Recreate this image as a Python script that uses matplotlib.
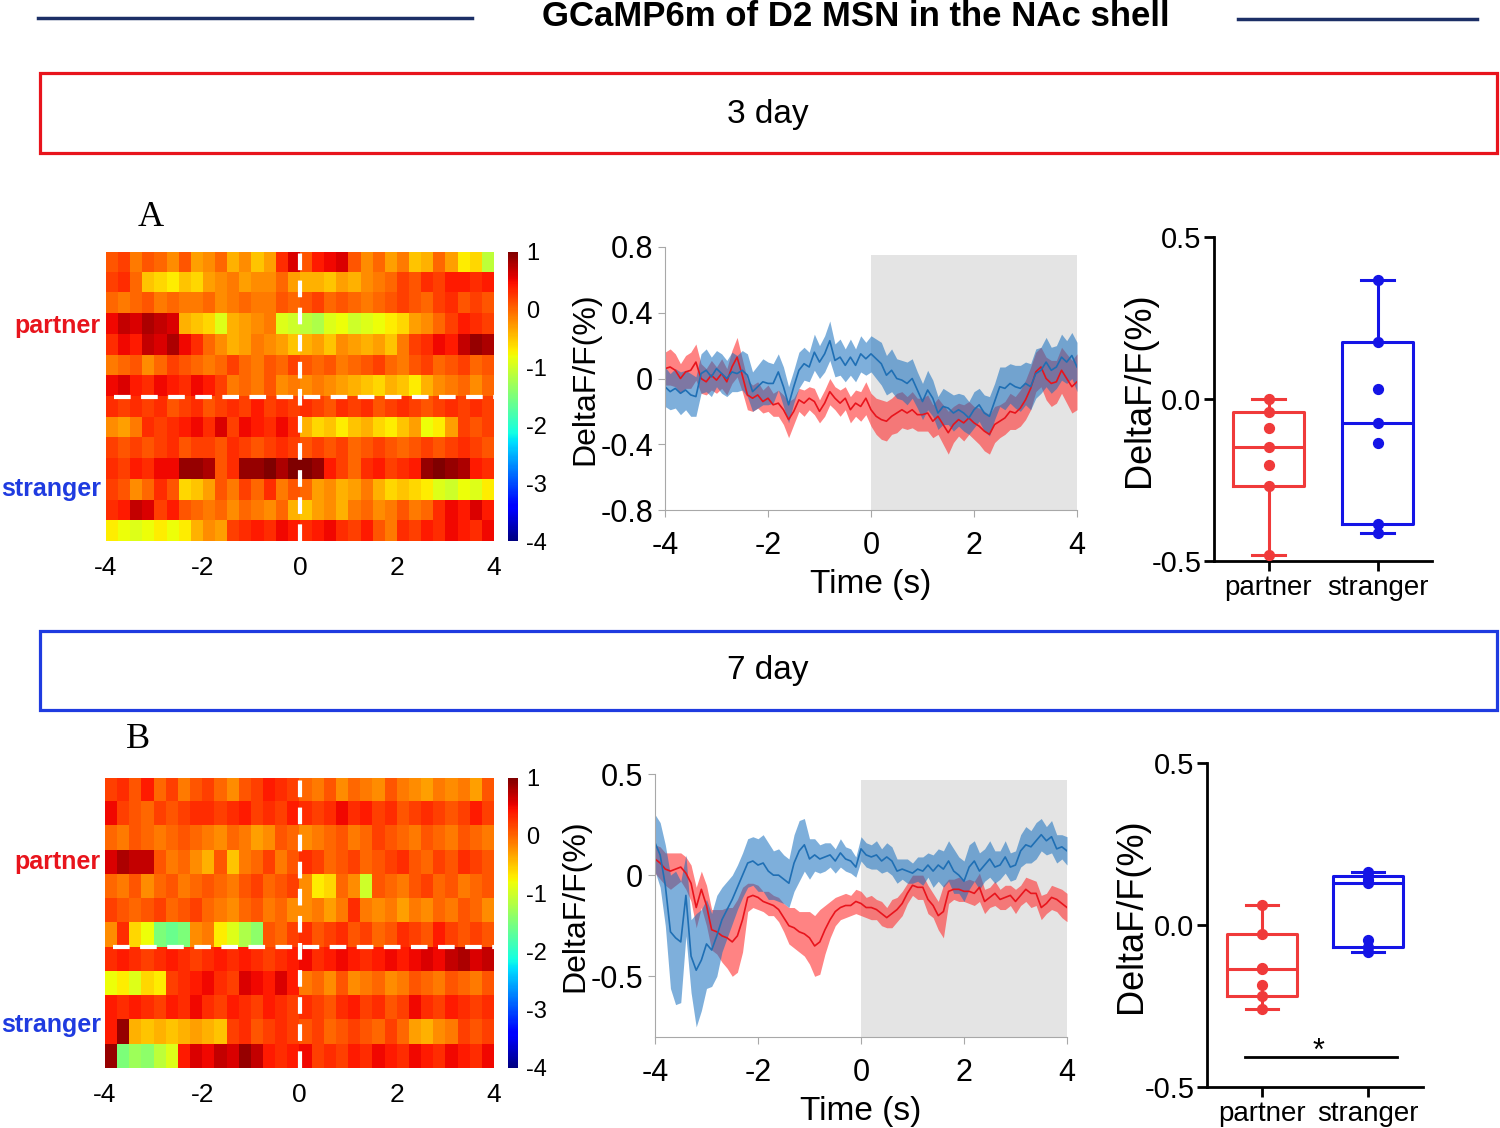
import numpy as np
import matplotlib
matplotlib.use('Agg')
import matplotlib.pyplot as plt
from matplotlib.patches import Rectangle
from matplotlib.lines import Line2D

plt.rcParams['font.family'] = ['Liberation Sans', 'DejaVu Sans']
plt.rcParams['axes.unicode_minus'] = False

W, H = 1500, 1128
RED = '#e8141c'
BLUE = '#1f3be0'
BOX_RED = '#f03a3a'
BOX_BLUE = '#1414e6'

# ---------------- data ----------------
time = np.round(np.arange(-4, 4.01, 0.1), 1)

# 3 day, mean trace +- sem (DeltaF/F %)
red_a = [0.06, 0.07, 0.05, 0.00, 0.04, 0.05, 0.10, 0.00, -0.02, 0.02,
         -0.01, 0.03, -0.02, 0.07, 0.13, 0.02, -0.10, -0.12, -0.10, -0.14,
         -0.12, -0.16, -0.15, -0.19, -0.25, -0.20, -0.13, -0.15, -0.12, -0.14,
         -0.20, -0.15, -0.08, -0.12, -0.15, -0.12, -0.19, -0.15, -0.17, -0.12,
         -0.19, -0.23, -0.25, -0.26, -0.23, -0.21, -0.19, -0.21, -0.19, -0.22,
         -0.22, -0.21, -0.26, -0.23, -0.28, -0.33, -0.28, -0.25, -0.27, -0.24,
         -0.27, -0.29, -0.32, -0.34, -0.28, -0.26, -0.24, -0.20, -0.21, -0.18,
         -0.13, -0.06, 0.04, 0.07, 0.00, -0.03, -0.02, 0.05, 0.00, -0.05,
         -0.02]
red_sem_a = [0.10, 0.11, 0.10, 0.09, 0.10, 0.11, 0.11, 0.09, 0.08, 0.09,
             0.08, 0.09, 0.08, 0.10, 0.12, 0.10, 0.09, 0.08, 0.08, 0.07,
             0.08, 0.07, 0.08, 0.09, 0.11, 0.08, 0.07, 0.08, 0.07, 0.08,
             0.07, 0.08, 0.08, 0.07, 0.08, 0.07, 0.08, 0.08, 0.09, 0.10,
             0.10, 0.11, 0.12, 0.12, 0.11, 0.12, 0.11, 0.10, 0.11, 0.10,
             0.10, 0.11, 0.10, 0.11, 0.12, 0.13, 0.11, 0.10, 0.11, 0.10,
             0.10, 0.11, 0.12, 0.12, 0.11, 0.10, 0.10, 0.11, 0.10, 0.11,
             0.12, 0.13, 0.12, 0.12, 0.13, 0.14, 0.13, 0.14, 0.15, 0.16,
             0.17]
blue_a = [-0.05, -0.08, -0.06, -0.09, -0.07, -0.10, -0.11, 0.03, 0.05, 0.01,
          0.06, 0.03, 0.00, 0.04, 0.03, 0.05, 0.02, -0.08, -0.05, -0.02,
          -0.03, -0.03, 0.04, -0.05, -0.16, -0.05, 0.05, 0.09, 0.07, 0.16,
          0.10, 0.15, 0.23, 0.11, 0.13, 0.08, 0.13, 0.08, 0.15, 0.12,
          0.15, 0.12, 0.09, 0.02, 0.05, 0.00, -0.01, -0.03, 0.00, -0.07,
          -0.14, -0.07, -0.12, -0.21, -0.17, -0.18, -0.21, -0.19, -0.21, -0.24,
          -0.19, -0.16, -0.21, -0.23, -0.14, -0.05, -0.06, -0.03, -0.05, -0.06,
          -0.03, -0.05, 0.03, 0.05, 0.10, 0.05, 0.07, 0.13, 0.10, 0.14,
          0.07]
blue_sem_a = [0.12, 0.11, 0.12, 0.13, 0.12, 0.13, 0.12, 0.12, 0.13, 0.12,
              0.11, 0.12, 0.11, 0.12, 0.11, 0.12, 0.13, 0.12, 0.13, 0.14,
              0.13, 0.12, 0.11, 0.12, 0.11, 0.10, 0.11, 0.10, 0.09, 0.11,
              0.10, 0.11, 0.12, 0.10, 0.11, 0.10, 0.11, 0.10, 0.11, 0.10,
              0.11, 0.12, 0.13, 0.12, 0.13, 0.12, 0.12, 0.13, 0.12, 0.11,
              0.11, 0.12, 0.11, 0.10, 0.11, 0.10, 0.11, 0.10, 0.11, 0.10,
              0.11, 0.10, 0.11, 0.12, 0.11, 0.12, 0.13, 0.12, 0.13, 0.14,
              0.13, 0.14, 0.15, 0.14, 0.15, 0.14, 0.13, 0.14, 0.13, 0.14,
              0.15]

# 7 day
red_b = [0.08, 0.06, 0.03, 0.02, 0.03, 0.04, 0.01, -0.04, -0.16, -0.07,
         -0.15, -0.27, -0.28, -0.30, -0.31, -0.33, -0.30, -0.22, -0.11, -0.10,
         -0.11, -0.13, -0.14, -0.15, -0.17, -0.21, -0.25, -0.26, -0.28, -0.29,
         -0.31, -0.35, -0.33, -0.27, -0.22, -0.18, -0.16, -0.15, -0.15, -0.13,
         -0.14, -0.16, -0.16, -0.17, -0.19, -0.21, -0.19, -0.17, -0.14, -0.09,
         -0.05, -0.06, -0.06, -0.12, -0.15, -0.20, -0.18, -0.08, -0.07, -0.07,
         -0.08, -0.08, -0.09, -0.06, -0.13, -0.11, -0.09, -0.12, -0.11, -0.10,
         -0.13, -0.10, -0.07, -0.09, -0.09, -0.16, -0.14, -0.11, -0.12, -0.14,
         -0.16]
red_sem_b = [0.07, 0.08, 0.08, 0.09, 0.08, 0.07, 0.08, 0.09, 0.10, 0.09,
             0.10, 0.10, 0.11, 0.13, 0.15, 0.17, 0.18, 0.16, 0.07, 0.06,
             0.06, 0.05, 0.06, 0.05, 0.06, 0.07, 0.09, 0.10, 0.10, 0.11,
             0.13, 0.15, 0.16, 0.12, 0.09, 0.07, 0.06, 0.06, 0.05, 0.06,
             0.06, 0.05, 0.06, 0.05, 0.06, 0.05, 0.07, 0.06, 0.06, 0.05,
             0.05, 0.06, 0.06, 0.07, 0.06, 0.07, 0.13, 0.06, 0.05, 0.06,
             0.05, 0.06, 0.06, 0.07, 0.06, 0.05, 0.06, 0.05, 0.06, 0.05,
             0.06, 0.05, 0.06, 0.07, 0.06, 0.06, 0.05, 0.06, 0.06, 0.07,
             0.07]
blue_b = [0.16, 0.10, -0.05, -0.28, -0.31, -0.33, -0.10, -0.40, -0.47, -0.42,
          -0.34, -0.37, -0.30, -0.22, -0.17, -0.12, -0.06, 0.00, 0.06, 0.07,
          0.05, 0.06, 0.02, 0.00, 0.00, -0.02, -0.04, 0.06, 0.12, 0.15,
          0.08, 0.10, 0.08, 0.09, 0.10, 0.07, 0.11, 0.08, 0.07, 0.04,
          0.13, 0.10, 0.09, 0.10, 0.07, 0.09, 0.07, 0.02, 0.03, 0.02,
          0.01, 0.03, 0.02, 0.05, 0.02, 0.05, 0.03, 0.07, 0.02, 0.00,
          -0.03, 0.04, 0.07, 0.02, 0.05, 0.08, 0.04, 0.05, 0.09, 0.04,
          0.05, 0.12, 0.15, 0.14, 0.17, 0.20, 0.17, 0.19, 0.13, 0.14,
          0.12]
blue_sem_b = [0.14, 0.16, 0.20, 0.28, 0.33, 0.30, 0.20, 0.18, 0.28, 0.25,
              0.22, 0.18, 0.20, 0.16, 0.14, 0.12, 0.11, 0.11, 0.12, 0.12,
              0.13, 0.14, 0.14, 0.12, 0.13, 0.12, 0.12, 0.14, 0.15, 0.13,
              0.10, 0.08, 0.07, 0.07, 0.06, 0.06, 0.07, 0.06, 0.06, 0.05,
              0.06, 0.06, 0.06, 0.07, 0.06, 0.07, 0.07, 0.06, 0.05, 0.06,
              0.05, 0.06, 0.07, 0.06, 0.08, 0.08, 0.09, 0.10, 0.11, 0.09,
              0.10, 0.11, 0.10, 0.09, 0.08, 0.09, 0.08, 0.07, 0.08, 0.07,
              0.07, 0.08, 0.09, 0.08, 0.09, 0.08, 0.07, 0.08, 0.07, 0.06,
              0.07]

# heatmaps: one row per trial, 0.25 s bins from -4 to 4 s
heat_a = [
    [0.1, 0.2, -0.1, 0.1, 0.0, -0.2, 0.1, -0.3, -0.2, 0.0, -0.4, -0.2, -0.5, -0.3, 0.3, 0.6, 0.1, 0.4, 0.5, 0.6, 0.1, -0.2, 0.0, -0.3, -0.1, -0.5, -0.4, 0.0, -0.3, -0.7, -0.6, -1.1],
    [0.2, 0.3, 0.0, -0.5, -0.6, -0.7, -0.5, -0.6, -0.3, -0.2, -0.1, -0.3, -0.2, -0.2, 0.0, -0.3, -0.4, -0.4, -0.5, -0.3, -0.4, -0.2, -0.1, 0.0, 0.2, 0.1, 0.3, 0.2, 0.4, 0.4, 0.3, 0.4],
    [0.0, -0.1, 0.0, 0.1, -0.1, 0.0, -0.1, -0.1, 0.0, -0.2, -0.1, 0.0, -0.1, -0.1, 0.1, 0.0, 0.1, 0.2, 0.0, 0.1, 0.0, -0.1, 0.0, 0.1, 0.2, 0.1, 0.0, 0.2, 0.3, 0.1, 0.2, 0.1],
    [0.5, 0.7, 0.6, 0.8, 0.7, 0.6, -0.4, -0.5, -0.6, -0.9, -0.4, -0.3, -0.2, -0.1, -0.9, -1.0, -1.1, -1.2, -0.9, -0.8, -1.0, -0.9, -0.8, -0.7, -0.6, -0.3, -0.2, 0.0, 0.2, 0.4, 0.3, 0.2],
    [0.3, 0.5, 0.4, 0.7, 0.6, 0.8, 0.5, 0.3, 0.0, -0.2, -0.4, -0.3, -0.1, -0.2, -0.3, -0.5, -0.4, -0.3, -0.5, -0.2, -0.3, -0.4, -0.3, -0.5, -0.1, 0.2, 0.3, 0.5, 0.4, 0.7, 0.9, 0.8],
    [-0.1, 0.0, 0.1, -0.2, 0.0, 0.2, 0.1, 0.0, -0.1, 0.0, 0.2, 0.0, -0.1, 0.1, 0.0, 0.2, 0.1, 0.0, 0.1, -0.1, 0.0, 0.1, 0.2, 0.0, -0.1, 0.1, 0.2, 0.0, 0.1, 0.2, 0.0, 0.1],
    [0.5, 0.6, 0.4, 0.3, 0.5, 0.4, 0.3, 0.5, 0.4, 0.2, -0.1, 0.0, -0.1, 0.1, -0.2, -0.1, -0.2, -0.1, -0.2, -0.3, -0.4, -0.5, -0.6, -0.4, -0.5, -0.7, -0.4, -0.2, -0.1, 0.0, -0.2, 0.0],
    [0.3, 0.2, 0.3, 0.2, 0.3, 0.1, 0.2, 0.3, 0.1, 0.2, 0.3, 0.2, 0.4, 0.2, 0.3, 0.2, 0.3, 0.2, 0.1, 0.3, 0.2, 0.3, 0.1, 0.2, 0.3, 0.2, 0.1, 0.2, 0.3, 0.2, 0.3, 0.2],
    [-0.2, -0.3, -0.1, 0.3, 0.2, 0.3, 0.4, 0.5, 0.3, 0.6, 0.2, 0.5, 0.4, 0.3, 0.5, 0.3, -0.4, -0.6, -0.5, -0.7, -0.5, -0.4, -0.6, -0.7, -0.5, -0.3, -0.8, -0.7, -0.3, 0.2, 0.1, 0.2],
    [0.2, 0.1, 0.2, 0.1, 0.2, 0.3, 0.1, 0.2, 0.2, 0.1, 0.3, 0.2, 0.1, 0.2, 0.3, 0.2, 0.1, 0.2, 0.1, 0.2, 0.0, 0.1, 0.2, 0.1, 0.0, 0.1, 0.2, 0.1, 0.2, 0.3, 0.2, 0.1],
    [0.3, 0.2, 0.4, 0.3, 0.5, 0.5, 0.9, 0.9, 0.8, 0.1, 0.3, 0.9, 0.9, 1.0, 0.8, 1.0, 1.0, 0.9, 0.4, 0.2, 0.0, 0.3, 0.4, 0.2, 0.3, 0.4, 0.9, 1.0, 0.9, 0.8, 0.4, 0.3],
    [0.2, 0.1, -0.2, 0.0, 0.3, 0.1, -0.6, -0.5, -0.3, 0.1, -0.1, 0.2, 0.0, 0.3, -0.1, 0.1, 0.0, -0.3, -0.2, -0.4, -0.3, -0.1, -0.4, -0.6, -0.5, -0.6, -0.7, -0.9, -1.0, -0.8, -0.9, -0.7],
    [0.3, 0.4, 0.7, 0.6, 0.2, 0.4, 0.1, 0.0, -0.1, 0.0, -0.2, 0.0, -0.1, -0.2, 0.0, -0.4, -0.5, -0.3, -0.2, -0.4, -0.1, 0.0, -0.2, -0.1, 0.1, -0.1, 0.0, 0.3, 0.5, 0.4, 0.6, 0.4],
    [-0.7, -0.8, -0.9, -0.8, -0.7, -0.8, -0.7, -0.4, -0.2, -0.3, 0.2, 0.3, 0.4, 0.3, 0.5, 0.4, 0.3, 0.4, 0.5, 0.3, 0.2, 0.4, 0.1, -0.1, 0.3, 0.2, 0.4, 0.3, 0.5, 0.4, 0.3, 0.5],
]
heat_b = [
    [0.2, 0.3, 0.1, 0.4, 0.0, 0.2, -0.1, 0.1, 0.2, 0.0, -0.2, 0.1, 0.2, 0.4, 0.3, 0.2, 0.0, -0.1, 0.1, -0.2, 0.0, -0.1, -0.2, 0.1, -0.1, -0.2, -0.3, -0.1, -0.2, -0.1, -0.3, 0.1],
    [0.5, 0.2, 0.1, 0.0, 0.2, 0.1, 0.2, 0.3, 0.3, 0.2, 0.3, 0.4, 0.2, 0.3, 0.2, 0.4, 0.3, 0.2, 0.3, 0.5, 0.3, 0.4, 0.2, 0.3, 0.1, 0.2, 0.3, 0.2, 0.1, 0.2, 0.4, 0.2],
    [0.0, -0.1, 0.1, 0.0, -0.1, 0.0, 0.1, 0.0, -0.1, -0.2, 0.0, -0.1, -0.3, -0.2, 0.1, 0.0, -0.2, -0.1, 0.0, 0.1, -0.1, 0.0, 0.2, 0.1, 0.0, -0.1, 0.1, 0.0, -0.1, 0.1, 0.0, -0.1],
    [0.6, 0.8, 0.7, 0.7, 0.1, -0.1, 0.0, -0.2, -0.4, 0.1, -0.5, -0.1, 0.0, 0.2, -0.1, 0.1, 0.3, 0.2, 0.0, 0.1, 0.2, 0.0, 0.1, 0.2, 0.3, 0.1, 0.0, 0.2, 0.1, 0.3, 0.2, 0.1],
    [0.0, -0.1, 0.1, -0.2, 0.0, 0.1, -0.1, 0.0, 0.1, 0.0, -0.1, 0.1, 0.2, 0.0, 0.1, 0.2, -0.2, -0.7, -0.6, 0.0, -0.2, -1.0, 0.1, 0.0, -0.1, 0.1, 0.2, 0.0, 0.1, -0.1, 0.0, 0.1],
    [0.2, 0.1, 0.0, 0.1, 0.2, 0.0, 0.1, 0.2, 0.0, -0.1, -0.2, 0.0, 0.1, -0.1, 0.0, -0.2, -0.2, -0.1, -0.3, -0.1, 0.3, -0.1, -0.2, -0.1, -0.3, -0.1, -0.2, 0.0, -0.1, 0.1, 0.0, -0.2],
    [-0.2, 0.3, -0.6, -0.8, -1.5, -1.6, -1.5, -0.2, -0.1, -0.7, -0.9, -1.2, -1.4, 0.1, 0.0, 0.2, 0.3, 0.1, 0.2, 0.3, 0.1, 0.2, 0.0, 0.1, 0.3, 0.2, 0.1, 0.4, 0.2, 0.1, 0.2, 0.1],
    [0.3, 0.4, 0.3, 0.2, 0.3, 0.4, 0.3, 0.2, 0.3, 0.4, 0.3, 0.4, 0.3, 0.2, 0.3, 0.4, 0.5, 0.3, 0.4, 0.5, 0.4, 0.3, 0.4, 0.5, 0.4, 0.5, 0.6, 0.5, 0.7, 0.8, 0.6, 0.7],
    [-0.8, -0.7, -0.9, -0.6, -0.7, 0.2, 0.3, 0.4, 0.5, 0.3, 0.2, 0.6, 0.5, 0.4, 0.6, 0.4, -0.1, 0.0, -0.2, 0.1, -0.2, -0.1, 0.0, -0.2, -0.1, 0.1, 0.0, -0.1, 0.1, 0.0, -0.1, 0.1],
    [0.4, 0.3, 0.4, 0.3, 0.2, 0.4, 0.3, 0.5, 0.3, 0.2, 0.4, 0.3, 0.2, 0.4, 0.3, 0.2, 0.3, 0.2, 0.1, 0.3, 0.4, 0.2, 0.3, 0.1, 0.2, 0.5, 0.3, 0.2, 0.4, 0.3, 0.2, 0.3],
    [0.4, 0.9, -0.4, -0.5, -0.4, -0.5, -0.4, -0.3, -0.4, -0.5, 0.2, 0.3, 0.1, 0.2, 0.3, 0.2, 0.1, 0.2, 0.0, 0.1, 0.2, 0.1, 0.0, 0.2, 0.0, -0.3, -0.4, -0.2, -0.1, 0.2, 0.1, 0.2],
    [0.9, -1.5, -1.3, -1.4, -1.1, -0.9, 0.4, 0.6, 0.5, 0.7, 0.6, 0.9, 0.7, 0.4, 0.3, 0.4, 0.5, 0.2, 0.3, 0.2, 0.4, 0.3, 0.5, 0.4, 0.3, 0.5, 0.4, 0.3, 0.5, 0.4, 0.3, 0.5],
]
n_partner_a = 7
n_partner_b = 7

# per-animal means for the box plots
box_a_partner = [-0.48, -0.267, -0.205, -0.147, -0.089, -0.041, 0.0]
box_a_stranger = [-0.414, -0.387, -0.137, -0.075, 0.031, 0.175, 0.368]
box_b_partner = [-0.258, -0.22, -0.186, -0.135, -0.133, -0.027, 0.062]
box_b_stranger = [-0.083, -0.068, -0.046, 0.130, 0.140, 0.151, 0.164]
box_labels = ['partner', 'stranger']


def px_axes(fig, x0, y0, x1, y1):
    # axes from pixel box (left, top, right, bottom)
    return fig.add_axes([x0 / W, 1 - y1 / H, (x1 - x0) / W, (y1 - y0) / H])


def plot_heatmap(fig, rows, n_partner, box, cbox, y_partner, y_stranger):
    ax = px_axes(fig, *box)
    im = ax.imshow(np.array(rows), cmap='jet', vmin=-4, vmax=1, aspect='auto',
                   extent=[-4, 4, len(rows), 0], interpolation='nearest')
    ax.axvline(0, color='white', lw=3, dashes=(4, 2.5))
    ax.axhline(n_partner, xmin=0.02, color='white', lw=3, dashes=(4, 2.5))
    ax.set_xticks([-4, -2, 0, 2, 4])
    ax.set_xticklabels(['-4', '-2', '0', '2', '4'])
    ax.set_yticks([])
    ax.tick_params(length=0, labelsize=19, pad=11)
    for s in ax.spines.values():
        s.set_visible(False)

    cax = px_axes(fig, *cbox)
    cb = fig.colorbar(im, cax=cax, ticks=[1, 0, -1, -2, -3, -4])
    cb.ax.set_yticklabels(['1', '0', '-1', '-2', '-3', '-4'])
    cb.ax.tick_params(length=0, labelsize=17, pad=6)
    cb.outline.set_visible(False)

    fig.text(100 / W, 1 - y_partner / H, 'partner', ha='right', va='center',
             color=RED, weight='bold', fontsize=18)
    fig.text(101 / W, 1 - y_stranger / H, 'stranger', ha='right', va='center',
             color=BLUE, weight='bold', fontsize=18)


def plot_traces(fig, box, rm, rs, bm, bs, ylim, yticks, ylabels, shade_top):
    ax = px_axes(fig, *box)
    rm, rs, bm, bs = map(np.array, (rm, rs, bm, bs))
    ax.axvspan(0, 4, ymin=0, ymax=(shade_top - ylim[0]) / (ylim[1] - ylim[0]),
               color='#e4e4e4', lw=0, zorder=0)
    ax.fill_between(time, rm - rs, rm + rs, color='#ff3030', alpha=0.6, lw=0)
    ax.plot(time, rm, color='#e8141c', lw=1.2)
    ax.fill_between(time, bm - bs, bm + bs, color='#156ebe', alpha=0.55, lw=0)
    ax.plot(time, bm, color='#1f6fb4', lw=1.2)

    ax.set_xlim(-4, 4)
    ax.set_ylim(*ylim)
    ax.set_xticks([-4, -2, 0, 2, 4])
    ax.set_xticklabels(['-4', '-2', '0', '2', '4'])
    ax.set_yticks(yticks)
    ax.set_yticklabels(ylabels)
    for s in ['top', 'right']:
        ax.spines[s].set_visible(False)
    for s in ['left', 'bottom']:
        ax.spines[s].set_color('#a8a8a8')
    ax.tick_params(direction='out', length=5, color='#a8a8a8', labelsize=22)
    ax.tick_params(axis='x', pad=10)
    ax.set_xlabel('Time (s)', fontsize=24)
    ax.xaxis.set_label_coords(0.5, -0.225)
    ax.set_ylabel('DeltaF/F(%)', fontsize=23)
    ax.yaxis.set_label_coords(-0.158, 0.5)
    return ax


def plot_box(fig, box, partner, stranger, xlim, label_x, sig=False):
    ax = px_axes(fig, *box)
    for pos, vals, col in [(1, partner, BOX_RED), (2, stranger, BOX_BLUE)]:
        q1, med, q3 = np.percentile(vals, [25, 50, 75], method='weibull')
        stats = [dict(med=med, q1=q1, q3=q3, whislo=min(vals), whishi=max(vals), fliers=[])]
        lp = dict(color=col, lw=2.2)
        ax.bxp(stats, positions=[pos], widths=0.66, capwidths=0.3, showfliers=False,
               boxprops=lp, whiskerprops=lp, capprops=lp, medianprops=lp)
        ax.scatter(np.full(len(vals), pos), vals, s=50, color=col, zorder=3)

    if sig:
        ax.plot([0.84, 2.27], [-0.407, -0.407], color='black', lw=2)
        ax.text(1.53, -0.415, '*', ha='center', va='baseline', fontsize=22)

    ax.set_xlim(*xlim)
    ax.set_ylim(-0.5, 0.5)
    ax.set_yticks([-0.5, 0.0, 0.5])
    ax.set_yticklabels(['-0.5', '0.0', '0.5'])
    ax.set_xticks([1, 2])
    ax.set_xticklabels(box_labels)
    for s in ['top', 'right']:
        ax.spines[s].set_visible(False)
    for s in ['left', 'bottom']:
        ax.spines[s].set_linewidth(2)
    ax.tick_params(direction='out', length=7, width=2, labelsize=21)
    ax.tick_params(axis='y', pad=2)
    ax.tick_params(axis='x', labelsize=20, pad=3)
    ax.set_ylabel('DeltaF/F(%)', fontsize=26)
    ax.yaxis.set_label_coords(label_x, 0.53)
    return ax


fig = plt.figure(figsize=(W / 100, H / 100), dpi=100)

# header
fig.text(856 / W, 1 - 16 / H, 'GCaMP6m of D2 MSN in the NAc shell', ha='center',
         va='center', fontsize=25, weight='bold')
fig.add_artist(Line2D([38 / W, 472 / W], [1 - 18 / H] * 2, color='#1c2f66', lw=2.5))
fig.add_artist(Line2D([1238 / W, 1477 / W], [1 - 19 / H] * 2, color='#1c2f66', lw=2.5))

fig.add_artist(Rectangle((40 / W, 1 - 153 / H), 1457 / W, 80 / H, fill=False,
                         edgecolor=RED, lw=2.3, transform=fig.transFigure))
fig.text(768 / W, 1 - 114 / H, '3 day', ha='center', va='center', fontsize=24)
fig.add_artist(Rectangle((40 / W, 1 - 710 / H), 1457 / W, 79 / H, fill=False,
                         edgecolor=BLUE, lw=2.3, transform=fig.transFigure))
fig.text(768 / W, 1 - 670 / H, '7 day', ha='center', va='center', fontsize=24)

fig.text(151 / W, 1 - 218 / H, 'A', ha='center', va='center', fontsize=26,
         family='Liberation Serif')
fig.text(138 / W, 1 - 740 / H, 'B', ha='center', va='center', fontsize=26,
         family='Liberation Serif')

# 3 day row
plot_heatmap(fig, heat_a, n_partner_a, (106, 252, 494, 541), (508, 252, 518, 541), 326, 489)
plot_traces(fig, (665, 247, 1077, 510), red_a, red_sem_a, blue_a, blue_sem_a,
            (-0.8, 0.8), [-0.8, -0.4, 0, 0.4, 0.8], ['-0.8', '-0.4', '0', '0.4', '0.8'], 0.75)
plot_box(fig, (1214, 237, 1432, 561), box_a_partner, box_a_stranger, (0.5, 2.5), -0.262)

# 7 day row
plot_heatmap(fig, heat_b, n_partner_b, (105, 778, 494, 1068), (508, 778, 518, 1068), 862, 1025)
plot_traces(fig, (655, 774, 1067, 1037), red_b, red_sem_b, blue_b, blue_sem_b,
            (-0.8, 0.5), [-0.5, 0, 0.5], ['-0.5', '0', '0.5'], 0.47)
plot_box(fig, (1207, 763, 1423, 1087), box_b_partner, box_b_stranger, (0.48, 2.52), -0.27,
         sig=True)

fig.savefig('out.png', dpi=100)
